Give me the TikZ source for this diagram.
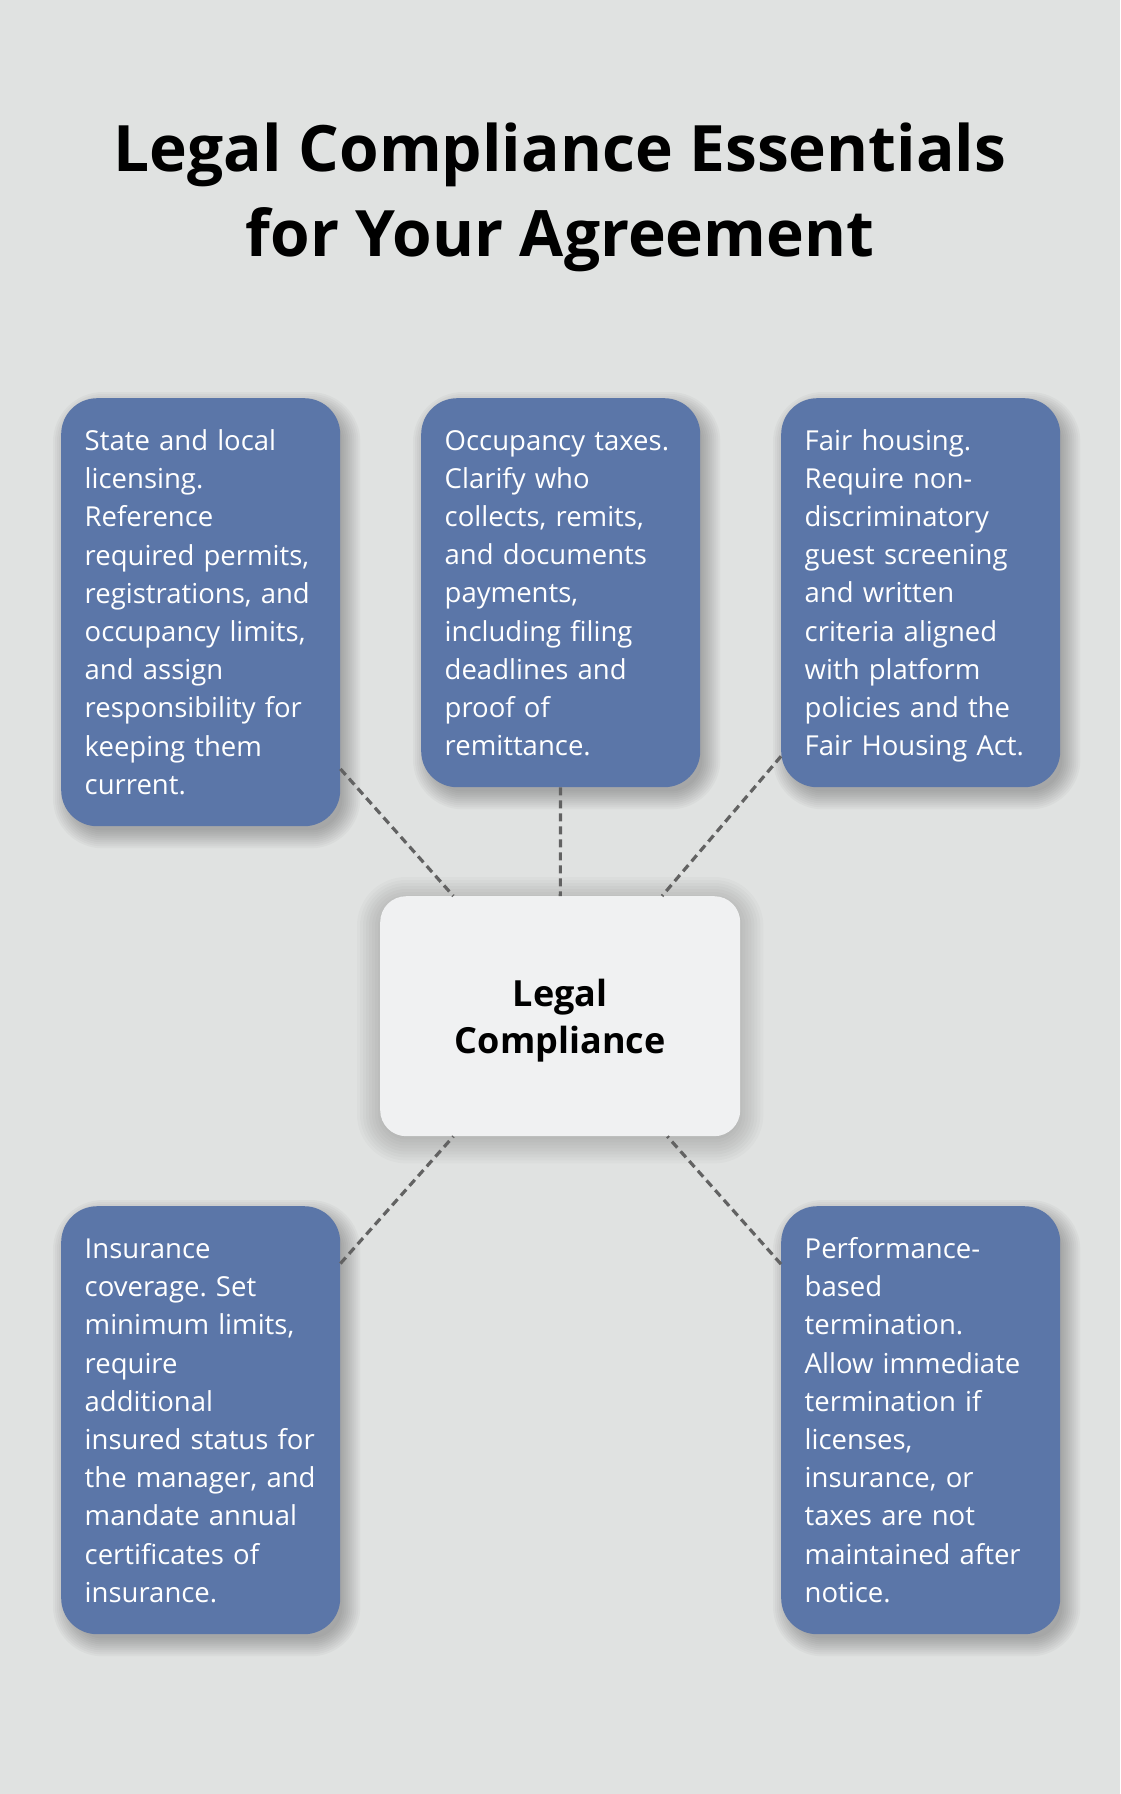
\documentclass[tikz,border=0pt]{standalone}
\usepackage{fontspec}
\setmainfont{Open Sans}
\frenchspacing
\definecolor{bg}{HTML}{E0E2E1}
\definecolor{boxblue}{HTML}{5B76A8}
\definecolor{centerfill}{HTML}{F0F1F2}
\definecolor{conncol}{HTML}{626262}
\pgfdeclarelayer{bglayer}
\pgfdeclarelayer{shadowlayer}
\pgfsetlayers{bglayer,shadowlayer,main}
\newcommand{\topstrut}{\rule{0pt}{32pt}}
\tikzset{
  item/.style={draw=none, fill=boxblue, rounded corners=36pt, text=white,
    minimum width=279pt, text width=232pt, inner xsep=23.5pt, inner ysep=0pt,
    align=left, anchor=north west,
    font=\fontsize{27.5}{38.2}\selectfont},
  hub/.style={draw=none, fill=centerfill, rounded corners=26pt, text=black,
    minimum width=360pt, minimum height=240pt, align=center, anchor=north west,
    font=\fontsize{36}{47}\selectfont\bfseries},
  shadowpiece/.style={fill=black, opacity=0.028},
  conn/.style={draw=conncol, line width=3.2pt, dash pattern=on 8pt off 5pt},
  title/.style={font=\fontsize{64}{85}\selectfont\bfseries, align=center, text=black}
}
\begin{document}
\begin{tikzpicture}[x=1pt,y=-1pt]
\useasboundingbox (0,0) rectangle (1120,1794);
\begin{pgfonlayer}{bglayer}
\fill[bg] (0,0) rectangle (1120,1794);
\end{pgfonlayer}
\node[title] (t) at (560,197) {Legal Compliance Essentials\\for Your Agreement};

\node[item, minimum height=428pt] (a) at (61,398) {\topstrut State and local\\licensing.\\Reference\\required permits,\\registrations, and\\occupancy limits,\\and assign\\responsibility for\\keeping them\\current.\strut};
\node[item, minimum height=389pt] (b) at (421,398) {\topstrut Occupancy taxes.\\Clarify who\\collects, remits,\\and documents\\payments,\\including filing\\deadlines and\\proof of\\remittance.\strut};
\node[item, minimum height=389pt] (c) at (781,398) {\topstrut Fair housing.\\Require non-\\discriminatory\\guest screening\\and written\\criteria aligned\\with platform\\policies and the\\Fair Housing Act.\strut};
\node[item, minimum height=428pt] (d) at (61,1206) {\topstrut Insurance\\coverage. Set\\minimum limits,\\require\\additional\\insured status for\\the manager, and\\mandate annual\\certificates of\\insurance.\strut};
\node[item, minimum height=428pt] (e) at (781,1206) {\topstrut Performance-\\based\\termination.\\Allow immediate\\termination if\\licenses,\\insurance, or\\taxes are not\\maintained after\\notice.\strut};

\node[hub] (h) at (380,896) {\rule{0pt}{36pt}Legal\\Compliance};

\begin{pgfonlayer}{shadowlayer}
\foreach \n in {a,b,c,d,e}{
  \foreach \k in {-4,-2,...,14}{
    \fill[shadowpiece, rounded corners=36pt+\k pt]
      ([xshift=6pt-\k pt, yshift=-8pt+\k pt]\n.north west) rectangle
      ([xshift=6pt+\k pt, yshift=-8pt-\k pt]\n.south east);
  }
}
\foreach \k in {-4,-1,...,23}{
  \fill[fill=black, opacity=0.018, rounded corners=26pt+\k pt]
    ([xshift=-\k pt, yshift=-4pt+\k pt]h.north west) rectangle
    ([xshift=\k pt, yshift=-4pt-\k pt]h.south east);
}
\end{pgfonlayer}

\draw[conn] (a) -- (h);
\draw[conn] (b) -- (h);
\draw[conn] (c) -- (h);
\draw[conn] (d) -- (h);
\draw[conn] (e) -- (h);
\end{tikzpicture}
\end{document}
